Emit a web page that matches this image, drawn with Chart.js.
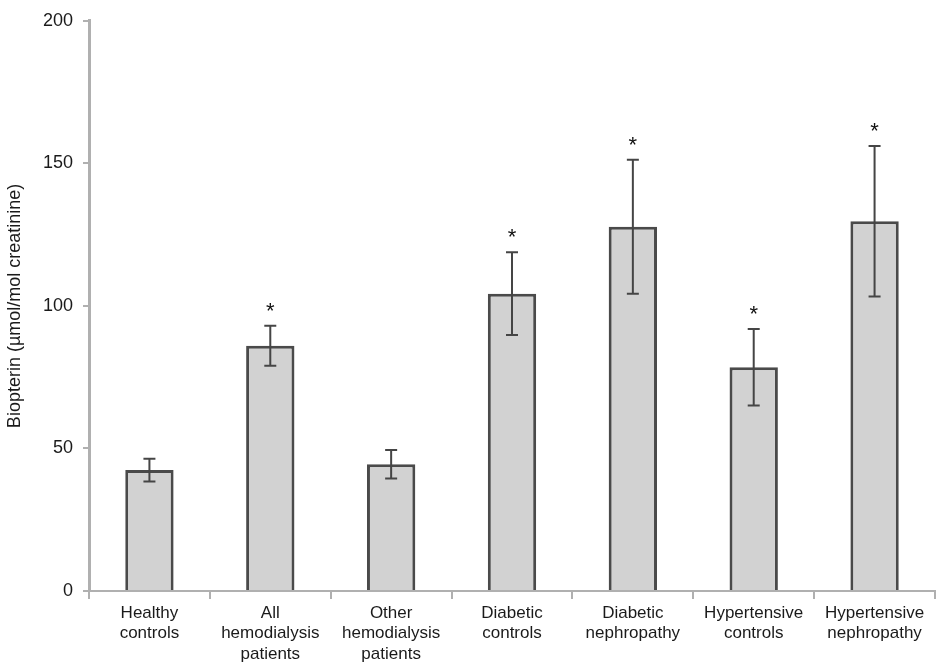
<!DOCTYPE html>
<html>
<head>
<meta charset="utf-8">
<script src="https://cdn.jsdelivr.net/npm/chart.js@4/dist/chart.umd.min.js"></script>
<style>
  html, body { margin: 0; padding: 0; background: #fff; }
  #wrap { width: 941px; height: 671px; position: relative; }
</style>
</head>
<body>
<div id="wrap"><canvas id="c" width="941" height="671"></canvas></div>
<script>
const categories = [
  ["Healthy", "controls"],
  ["All", "hemodialysis", "patients"],
  ["Other", "hemodialysis", "patients"],
  ["Diabetic", "controls"],
  ["Diabetic", "nephropathy"],
  ["Hypertensive", "controls"],
  ["Hypertensive", "nephropathy"]
];
const biopterin = [42.4, 86.0, 44.5, 104.3, 127.8, 78.5, 129.7];
const errors = [4.0, 7.0, 5.0, 14.5, 23.5, 13.4, 26.4];
const significant = [false, true, false, true, true, true, true];
const yTicks = [0, 50, 100, 150, 200];

const FONT = "'Liberation Sans', Arial, sans-serif";

const errorBarPlugin = {
  id: 'errorBars',
  afterDatasetsDraw(chart) {
    const ctx = chart.ctx;
    const xs = chart.scales.x, ys = chart.scales.y;
    ctx.save();
    ctx.strokeStyle = '#454545';
    ctx.lineWidth = 2;
    ctx.fillStyle = '#111';
    ctx.font = '22px ' + FONT;
    ctx.textAlign = 'center';
    ctx.textBaseline = 'alphabetic';
    biopterin.forEach((v, i) => {
      const x = xs.getPixelForValue(i);
      const yt = ys.getPixelForValue(v + errors[i]);
      const yb = ys.getPixelForValue(v - errors[i]);
      ctx.beginPath();
      ctx.moveTo(x, yt); ctx.lineTo(x, yb);
      ctx.moveTo(x - 6, yt); ctx.lineTo(x + 6, yt);
      ctx.moveTo(x - 6, yb); ctx.lineTo(x + 6, yb);
      ctx.stroke();
      if (significant[i]) {
        ctx.fillText('*', x, yt - 8);
      }
    });
    ctx.restore();
  }
};

new Chart(document.getElementById('c'), {
  type: 'bar',
  data: {
    labels: categories,
    datasets: [{
      data: biopterin,
      backgroundColor: '#d2d2d2',
      borderColor: '#4a4a4a',
      borderWidth: 3,
      borderSkipped: 'bottom',
      barPercentage: 0.4,
      categoryPercentage: 1.0
    }]
  },
  options: {
    responsive: false,
    animation: false,
    devicePixelRatio: 1,
    layout: { padding: { top: 20, right: 6, left: 0, bottom: 0 } },
    plugins: { legend: { display: false }, tooltip: { enabled: false } },
    scales: {
      x: {
        offset: true,
        grid: { offset: true, drawOnChartArea: false, drawTicks: true, tickLength: 8, color: '#b0b0b0', lineWidth: 2 },
        border: { color: '#b0b0b0', width: 2 },
        ticks: { color: '#1a1a1a', font: { family: FONT, size: 17 }, padding: 4, maxRotation: 0, autoSkip: false },
        afterFit(scale) { scale.height = 80; }
      },
      y: {
        min: 0, max: 200,
        afterBuildTicks(scale) { scale.ticks = yTicks.map(v => ({ value: v })); },
        grid: { drawOnChartArea: false, drawTicks: true, tickLength: 6, color: '#b0b0b0', lineWidth: 2 },
        border: { color: '#b0b0b0', width: 3 },
        ticks: { color: '#1a1a1a', font: { family: FONT, size: 18 }, padding: 10 },
        title: { display: true, text: 'Biopterin (µmol/mol creatinine)', color: '#1a1a1a', font: { family: FONT, size: 18 }, padding: { top: 4, bottom: 0 } },
        afterFit(scale) { scale.width = 89; }
      }
    }
  },
  plugins: [errorBarPlugin]
});
</script>
</body>
</html>
